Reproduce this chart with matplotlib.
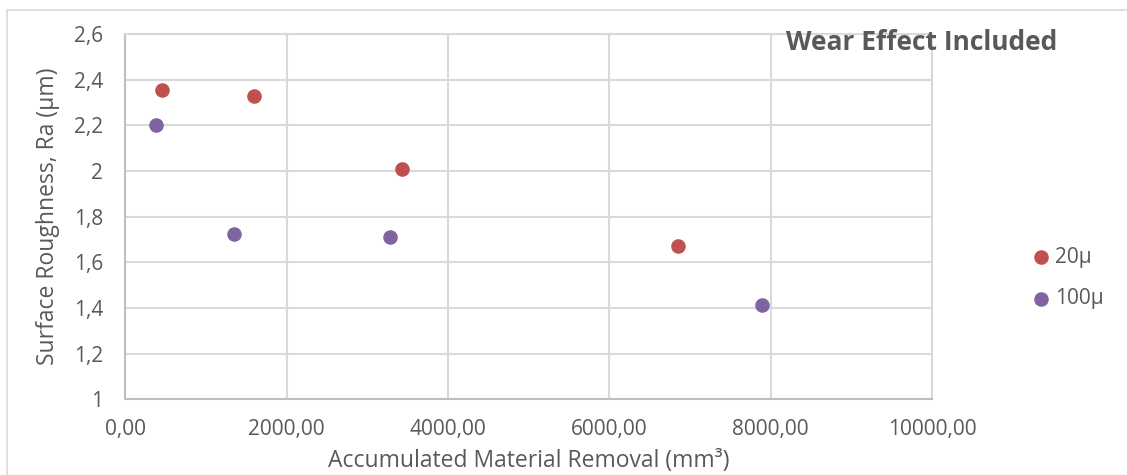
import matplotlib
matplotlib.use("Agg")
import matplotlib.pyplot as plt
from matplotlib.patches import Rectangle

plt.rcParams['font.family'] = ['Open Sans', 'DejaVu Sans']

# Accumulated material removal (mm³) and surface roughness Ra (µm)
x_20 = [455, 1598, 3429, 6853]
ra_20 = [2.355, 2.330, 2.009, 1.673]
x_100 = [380, 1349, 3278, 7894]
ra_100 = [2.200, 1.724, 1.711, 1.412]

series_names = ["20µ", "100µ"]
x_ticks = [0, 2000, 4000, 6000, 8000, 10000]
x_tick_labels = ["0,00", "2000,00", "4000,00", "6000,00", "8000,00", "10000,00"]
y_ticks = [1.0, 1.2, 1.4, 1.6, 1.8, 2.0, 2.2, 2.4, 2.6]
y_tick_labels = ["1", "1,2", "1,4", "1,6", "1,8", "2", "2,2", "2,4", "2,6"]

W, H = 1127, 475
fig = plt.figure(figsize=(W / 100, H / 100), dpi=100)
fig.patch.set_facecolor("white")

# chart frame
fig.patches.append(Rectangle((7 / W, -0.1), 1.2, (H - 10) / H + 0.1,
                             transform=fig.transFigure, fill=False,
                             edgecolor="#D9D9D9", linewidth=1.2))

left, right, top, bottom = 125.3, 932.0, 34.0, 399.3
ax = fig.add_axes([left / W, (H - bottom) / H, (right - left) / W, (bottom - top) / H])

grid_c = "#D9D9D9"
text_c = "#595959"

ax.set_xlim(0, 10000)
ax.set_ylim(1.0, 2.6)
ax.set_xticks(x_ticks)
ax.set_xticklabels(x_tick_labels)
ax.set_yticks(y_ticks)
ax.set_yticklabels(y_tick_labels)
ax.grid(True, color=grid_c, linewidth=1.5)
ax.set_axisbelow(True)
for s in ax.spines.values():
    s.set_color(grid_c)
    s.set_linewidth(1.5)
ax.spines['left'].set_color("#BFBFBF")
ax.spines['bottom'].set_color("#BFBFBF")
ax.tick_params(length=0, labelsize=15, colors=text_c)
ax.tick_params(axis='y', pad=16)
ax.tick_params(axis='x', pad=14)

ax.scatter(x_20, ra_20, s=110, color="#C0504D", label=series_names[0], zorder=3, linewidths=0)
ax.scatter(x_100, ra_100, s=110, color="#8064A2", label=series_names[1], zorder=3, linewidths=0)

fig.text(529 / W, 1 - 461 / H, "Accumulated Material Removal (mm³)", fontsize=16.5,
         color=text_c, ha="center", va="center")
fig.text(48 / W, 1 - 216 / H, "Surface Roughness, Ra (µm)", fontsize=16.5,
         color=text_c, ha="center", va="center", rotation=90)

fig.text(922 / W, 1 - 42 / H, "Wear Effect Included", fontsize=19, fontweight="bold",
         color=text_c, ha="center", va="center")

leg = fig.legend(loc="center left", bbox_to_anchor=(1033 / W, 1 - 278 / H), frameon=False,
                 fontsize=15, handlelength=0.8, handletextpad=0.25, labelspacing=1.0,
                 markerscale=1.0, borderpad=0, borderaxespad=0)
for t in leg.get_texts():
    t.set_color(text_c)

fig.savefig("out.png", dpi=100, facecolor="white")
